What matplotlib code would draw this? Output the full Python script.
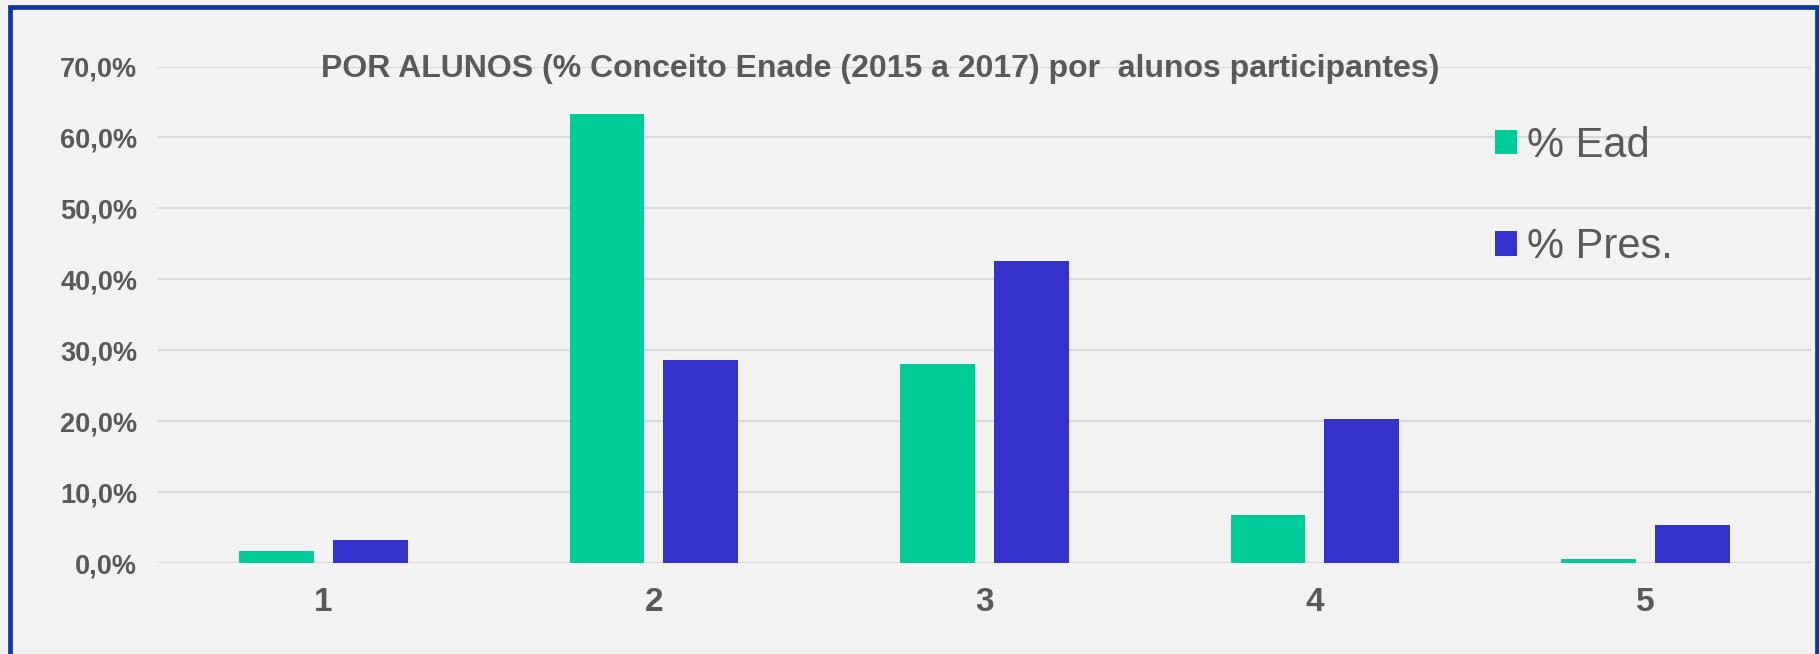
import matplotlib
matplotlib.use("Agg")
import matplotlib.pyplot as plt
from matplotlib.patches import Patch, Rectangle
import numpy as np

categories = ["1", "2", "3", "4", "5"]
ead = [1.7, 63.3, 28.0, 6.7, 0.55]
pres = [3.2, 28.6, 42.6, 20.3, 5.4]
yticks = [0, 10, 20, 30, 40, 50, 60, 70]
ytick_labels = ["0,0%", "10,0%", "20,0%", "30,0%", "40,0%", "50,0%", "60,0%", "70,0%"]
title = "POR ALUNOS (% Conceito Enade (2015 a 2017) por  alunos participantes)"
series_names = ["% Ead", "% Pres."]

C_EAD = "#00CC99"
C_PRES = "#3333CC"
BG = "#F2F2F2"
TXT = "#595959"
GRID = "#D9D9D9"

W, H = 1819, 654
fig = plt.figure(figsize=(W / 100, H / 100), dpi=100, facecolor=BG)
plt.rcParams['font.family'] = ['Liberation Sans', 'DejaVu Sans']

left, right = 158 / W, 1810.7 / W
bottom = (H - 563) / H
top = (H - 66.5) / H
ax = fig.add_axes([left, bottom, right - left, top - bottom])
ax.set_facecolor(BG)

x = np.arange(len(categories))
bw = 0.226
off = 0.142
ax.bar(x - off, ead, bw, color=C_EAD, label=series_names[0], zorder=3)
ax.bar(x + off, pres, bw, color=C_PRES, label=series_names[1], zorder=3)

ax.set_xlim(-0.5, len(categories) - 0.5)
ax.set_ylim(0, 70)
ax.set_yticks(yticks)
ax.set_yticklabels(ytick_labels, fontsize=19.5, fontweight='bold', color=TXT)
ax.set_xticks(x)
ax.set_xticklabels(categories, fontsize=24, fontweight='bold', color=TXT)
ax.tick_params(axis='y', length=0, pad=15)
ax.tick_params(axis='x', length=0, pad=17)
ax.grid(axis='y', color=GRID, linewidth=1.5, zorder=0)
ax.set_axisbelow(True)
for s in ax.spines.values():
    s.set_visible(False)

fig.text(320.7 / W, 1 - 77 / H, title, fontsize=23, fontweight='bold',
         color=TXT, ha='left', va='baseline')

handles = [Patch(facecolor=C_EAD, edgecolor='none'), Patch(facecolor=C_PRES, edgecolor='none')]
leg = fig.legend(handles, series_names, loc='upper left',
                 bbox_to_anchor=(1495 / W, 1 - 126 / H), frameon=False,
                 fontsize=30, labelcolor=TXT, handlelength=0.52, handleheight=0.52,
                 handletextpad=0.25, labelspacing=1.47, borderpad=0, borderaxespad=0)

# outer frame
fig.patches.append(Rectangle((9.5 / W, -0.05), (1816.5 - 9.5) / W, 1.05 - 7 / H,
                             transform=fig.transFigure, fill=False,
                             edgecolor="#0B3A9C", linewidth=3.4, zorder=10))

fig.savefig("out.png", dpi=100, facecolor=BG)
